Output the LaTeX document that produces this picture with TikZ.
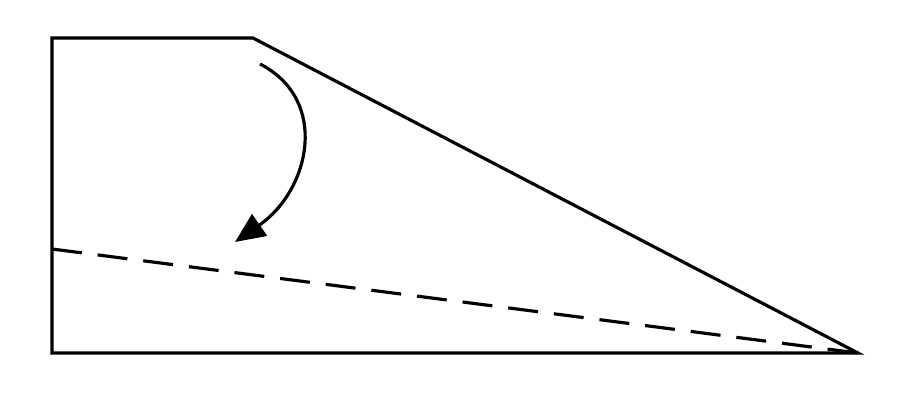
\documentclass[tikz,border=0pt]{standalone}
\usetikzlibrary{arrows.meta}
\begin{document}
\begin{tikzpicture}[x=1cm,y=1cm,
  edge/.style={line width=0.9pt, line join=miter},
  fold/.style={line width=0.9pt, dash pattern=on 0.3cm off 0.16cm},
  turn/.style={line width=0.9pt, -{Triangle[length=0.3cm,width=0.26cm]}}]
\useasboundingbox (0,0) rectangle (9,4);
\coordinate (tl) at (0.52,3.62);
\coordinate (tr) at (2.53,3.62);
\coordinate (apex) at (8.58,0.47);
\coordinate (bl) at (0.52,0.47);
\coordinate (fl) at (0.52,1.51);
\coordinate (as) at (2.60,3.36);
\coordinate (ae) at (2.35,1.58);
\draw[edge] (tl) -- (tr) -- (apex) -- (bl) -- cycle;
\draw[fold] (fl) -- (apex);
\draw[turn] (as) .. controls (3.3,3.0) and (3.1,2.1) .. (ae);
\end{tikzpicture}
\end{document}
